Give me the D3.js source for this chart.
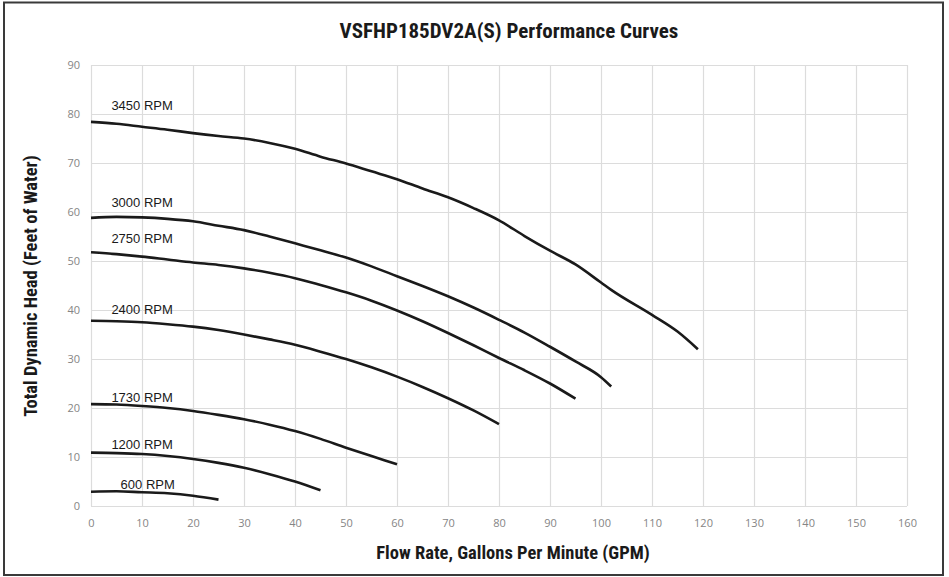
<!DOCTYPE html>
<html>
<head>
<meta charset="utf-8">
<script src="https://cdn.jsdelivr.net/npm/d3@7"></script>
<style>
  html, body { margin: 0; padding: 0; background: #fff; }
  svg { display: block; }
</style>
</head>
<body>
<svg id="chart" width="949" height="577"></svg>
<script>
// ---- Data ----
const title = "VSFHP185DV2A(S) Performance Curves";
const xTitle = "Flow Rate, Gallons Per Minute (GPM)";
const yTitle = "Total Dynamic Head (Feet of Water)";
const xTicks = [0,10,20,30,40,50,60,70,80,90,100,110,120,130,140,150,160];
const yTicks = [0,10,20,30,40,50,60,70,80,90];

const rpm3450_x = [0,5,10,15,20,25,30,35,40,45,50,55,60,65,70,75,80,85,90,95,100,102,110,115,119];
const rpm3450_y = [78.4,78.0,77.4,76.8,76.1,75.5,75.0,74.1,72.9,71.3,69.9,68.3,66.7,64.8,63.0,60.8,58.3,55.1,52.1,49.3,45.6,44.1,39.0,35.6,32.0];

const rpm3000_x = [0,5,10,15,20,25,30,35,40,45,50,55,60,65,70,75,80,85,90,95,100,102];
const rpm3000_y = [58.8,59.0,58.9,58.6,58.1,57.2,56.3,55.0,53.6,52.2,50.7,48.9,46.9,44.9,42.8,40.5,38.0,35.4,32.5,29.5,26.3,24.4];

const rpm2750_x = [0,5,10,15,20,25,30,35,40,45,50,55,60,65,70,75,80,85,90,95];
const rpm2750_y = [51.8,51.4,50.9,50.3,49.7,49.2,48.5,47.6,46.5,45.1,43.6,41.9,39.9,37.7,35.3,32.8,30.2,27.7,25.0,21.9];

const rpm2400_x = [0,5,10,15,20,25,30,35,40,45,50,55,60,65,70,75,80];
const rpm2400_y = [37.8,37.7,37.5,37.1,36.6,35.9,35.0,34.0,32.9,31.5,30.0,28.3,26.4,24.3,22.0,19.5,16.7];

const rpm1730_x = [0,5,10,15,20,25,30,35,40,45,50,55,60];
const rpm1730_y = [20.8,20.7,20.4,20.0,19.4,18.6,17.7,16.6,15.3,13.7,11.9,10.2,8.5];

const rpm1200_x = [0,5,10,15,20,25,30,35,40,45];
const rpm1200_y = [10.9,10.8,10.6,10.2,9.6,8.8,7.8,6.5,5.0,3.2];

const rpm600_x = [0,5,10,15,20,25];
const rpm600_y = [2.9,3.0,2.8,2.6,2.1,1.3];

const seriesNames = ["3450 RPM","3000 RPM","2750 RPM","2400 RPM","1730 RPM","1200 RPM","600 RPM"];
const seriesX = [rpm3450_x, rpm3000_x, rpm2750_x, rpm2400_x, rpm1730_x, rpm1200_x, rpm600_x];
const seriesY = [rpm3450_y, rpm3000_y, rpm2750_y, rpm2400_y, rpm1730_y, rpm1200_y, rpm600_y];
// label anchor positions in data units (flow, head)
const labelX = [4, 4, 4, 4, 4, 4, 5.8];
const labelY = [80.8, 61.0, 53.6, 39.2, 21.3, 11.6, 3.4];

// ---- Layout ----
const svg = d3.select("#chart");
const W = 949, H = 577;
const plot = { left: 91, right: 907, top: 65, bottom: 506 };

const x = d3.scaleLinear().domain([0,160]).range([plot.left, plot.right]);
const y = d3.scaleLinear().domain([0,90]).range([plot.bottom, plot.top]);

svg.append("rect").attr("width", W).attr("height", H).attr("fill", "#fff");

// outer border
svg.append("rect")
  .attr("x", 4).attr("y", 2.5).attr("width", 939).attr("height", 572.5)
  .attr("fill", "none").attr("stroke", "#3a3a3a").attr("stroke-width", 2);

// gridlines
const grid = svg.append("g");
grid.selectAll("line.v").data(xTicks).join("line")
  .attr("x1", d => Math.round(x(d)) + 0.5).attr("x2", d => Math.round(x(d)) + 0.5)
  .attr("y1", plot.top).attr("y2", plot.bottom)
  .attr("stroke", "#dcdcdc").attr("stroke-width", 1.2);
grid.selectAll("line.h").data(yTicks).join("line")
  .attr("y1", d => Math.round(y(d)) + 0.5).attr("y2", d => Math.round(y(d)) + 0.5)
  .attr("x1", plot.left).attr("x2", plot.right)
  .attr("stroke", "#dcdcdc").attr("stroke-width", 1.2);

// axes (labels only, via d3 axes)
const tickFont = "Open Sans, Liberation Sans, sans-serif";
const xAxis = svg.append("g")
  .attr("transform", `translate(0,${plot.bottom})`)
  .call(d3.axisBottom(x).tickValues(xTicks).tickSize(0).tickPadding(13).tickFormat(d3.format("d")));
const yAxis = svg.append("g")
  .attr("transform", `translate(${plot.left},0)`)
  .call(d3.axisLeft(y).tickValues(yTicks).tickSize(0).tickPadding(11).tickFormat(d3.format("d")));
[xAxis, yAxis].forEach(a => {
  a.select(".domain").remove();
  a.selectAll("text").attr("fill", "#858585").style("font-family", tickFont).style("font-size", "11px");
});

// curves
const line = d3.line().x(d => x(d[0])).y(d => y(d[1])).curve(d3.curveMonotoneX);
seriesNames.forEach((name, i) => {
  const pts = seriesX[i].map((v, j) => [v, seriesY[i][j]]);
  svg.append("path").datum(pts)
    .attr("d", line)
    .attr("fill", "none")
    .attr("stroke", "#1a1a1a")
    .attr("stroke-width", 2.6)
    .attr("stroke-linecap", "butt");
  svg.append("text")
    .attr("x", x(labelX[i])).attr("y", y(labelY[i]))
    .attr("fill", "#1a1a1a")
    .style("font-family", "Liberation Sans, Arial, sans-serif")
    .style("font-size", "13px")
    .text(name);
});

// titles
const boldNarrow = "'Liberation Sans Narrow', 'Arial Narrow', 'Roboto Condensed', sans-serif";
svg.append("text")
  .attr("x", 509).attr("y", 38)
  .attr("text-anchor", "middle")
  .attr("fill", "#1a1a1a")
  .style("font-family", boldNarrow).style("font-weight", "bold").style("font-size", "21px")
  .text(title);

svg.append("text")
  .attr("x", 513).attr("y", 559)
  .attr("text-anchor", "middle")
  .attr("fill", "#1a1a1a")
  .style("font-family", boldNarrow).style("font-weight", "bold").style("font-size", "18.5px")
  .text(xTitle);

svg.append("text")
  .attr("transform", "translate(37,286) rotate(-90)")
  .attr("text-anchor", "middle")
  .attr("fill", "#1a1a1a")
  .style("font-family", boldNarrow).style("font-weight", "bold").style("font-size", "18.5px")
  .text(yTitle);
</script>
</body>
</html>
